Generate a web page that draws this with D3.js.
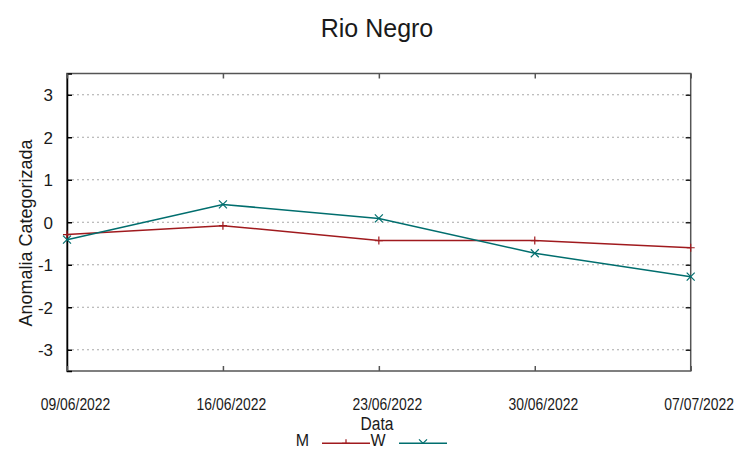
<!DOCTYPE html>
<html>
<head>
<meta charset="utf-8">
<script src="https://cdn.jsdelivr.net/npm/d3@7"></script>
<style>
  body { margin: 0; background: #fff; }
  text { font-family: "Liberation Sans", Arial, sans-serif; fill: #1a1a1a; }
</style>
</head>
<body>
<div id="chart"></div>
<script>
// chart values
var dates = ["09/06/2022", "16/06/2022", "23/06/2022", "30/06/2022", "07/07/2022"];
var seriesNames = ["M", "W"];
var valuesM = [-0.29, -0.08, -0.43, -0.43, -0.60];
var valuesW = [-0.41, 0.42, 0.09, -0.73, -1.28];
var yTicks = [-3, -2, -1, 0, 1, 2, 3];

var svgWidth = 753;
var svgHeight = 459;

// plot area edges
var margin = { top: 73.5, right: 62.3, bottom: 88, left: 67 };
var width = svgWidth - margin.left - margin.right;
var height = svgHeight - margin.top - margin.bottom;

var colors = { M: "#a01a1e", W: "#006e6e" };
var narrow = 0.82; // the reference uses a condensed face for these labels

var svg = d3.select("#chart")
  .append("svg")
  .attr("width", svgWidth)
  .attr("height", svgHeight);

var chartGroup = svg.append("g")
  .attr("transform", `translate(${margin.left}, ${margin.top})`);

var xScale = d3.scalePoint()
  .domain(dates)
  .range([0, width])
  .padding(0);

var yScale = d3.scaleLinear()
  .domain([-3.5, 3.5])
  .range([height, 0]);

// dotted grid
chartGroup.append("g")
  .selectAll("line")
  .data(yTicks)
  .enter()
  .append("line")
  .attr("x1", 0)
  .attr("x2", width)
  .attr("y1", d => yScale(d))
  .attr("y2", d => yScale(d))
  .attr("stroke", "#a8a8a8")
  .attr("stroke-width", 1)
  .attr("stroke-dasharray", "2,3");

// border
chartGroup.append("rect")
  .attr("x", 0)
  .attr("y", 0)
  .attr("width", width)
  .attr("height", height)
  .attr("fill", "none")
  .attr("stroke", "#555")
  .attr("stroke-width", 1.5);

// left axis
var leftAxis = d3.axisLeft(yScale)
  .tickValues(yTicks)
  .tickSize(-5)
  .tickPadding(14)
  .tickFormat(d => String(d));
var yAxis = chartGroup.append("g").call(leftAxis);
yAxis.select(".domain").attr("stroke", "#000").attr("stroke-width", 1.5);
yAxis.selectAll(".tick line").attr("stroke", "#000").attr("stroke-width", 1.5);
yAxis.selectAll(".tick text")
  .style("font-size", "17px")
  .attr("dy", "0.36em");

// right axis ticks
var rightAxis = d3.axisRight(yScale).tickValues(yTicks).tickSize(-5).tickFormat("");
var yAxisRight = chartGroup.append("g")
  .attr("transform", `translate(${width}, 0)`)
  .call(rightAxis);
yAxisRight.select(".domain").remove();
yAxisRight.selectAll(".tick line").attr("stroke", "#222").attr("stroke-width", 1.5);

// bottom axis
var bottomAxis = d3.axisBottom(xScale).tickSize(-5).tickPadding(27);
var xAxis = chartGroup.append("g")
  .attr("transform", `translate(0, ${height})`)
  .call(bottomAxis);
xAxis.select(".domain").remove();
xAxis.selectAll(".tick line").attr("stroke", "#555").attr("stroke-width", 1.5);
xAxis.selectAll(".tick text")
  .attr("x", 0)
  .attr("transform", `translate(8, 0) scale(${narrow}, 1)`)
  .style("font-size", "17px");

// top axis ticks
var topAxis = d3.axisTop(xScale).tickSize(-5).tickFormat("");
var xAxisTop = chartGroup.append("g").call(topAxis);
xAxisTop.select(".domain").remove();
xAxisTop.selectAll(".tick line").attr("stroke", "#555").attr("stroke-width", 1.5);

// lines
var series = [
  { name: "M", values: valuesM, symbol: "plus" },
  { name: "W", values: valuesW, symbol: "cross" }
];

var line = d3.line()
  .x((d, i) => xScale(dates[i]))
  .y(d => yScale(d));

function drawSymbol(g, type, x, y, color) {
  var s = 4;
  if (type === "plus") {
    g.append("path")
      .attr("d", `M${x - s},${y}H${x + s}M${x},${y - s}V${y + s}`)
      .attr("stroke", color).attr("stroke-width", 1.2).attr("fill", "none");
  } else {
    g.append("path")
      .attr("d", `M${x - s},${y - s}L${x + s},${y + s}M${x - s},${y + s}L${x + s},${y - s}`)
      .attr("stroke", color).attr("stroke-width", 1.2).attr("fill", "none");
  }
}

series.forEach(function(s) {
  chartGroup.append("path")
    .datum(s.values)
    .attr("d", line)
    .attr("fill", "none")
    .attr("stroke", colors[s.name])
    .attr("stroke-width", 1.5);
  var pts = chartGroup.append("g");
  s.values.forEach(function(v, i) {
    drawSymbol(pts, s.symbol, xScale(dates[i]), yScale(v), colors[s.name]);
  });
});

// title
svg.append("text")
  .attr("x", 377)
  .attr("y", 37)
  .attr("text-anchor", "middle")
  .style("font-size", "25px")
  .text("Rio Negro");

// y label
svg.append("text")
  .attr("transform", "rotate(-90)")
  .attr("x", -233)
  .attr("y", 32)
  .attr("text-anchor", "middle")
  .style("font-size", "18px")
  .text("Anomalia Categorizada");

// x label
svg.append("text")
  .attr("transform", `translate(377, 429.5) scale(${narrow}, 1)`)
  .attr("text-anchor", "middle")
  .style("font-size", "19px")
  .text("Data");

// legend; its symbols are cut off below the sample line, as in the reference
var legendY = 443.3;
svg.append("clipPath").attr("id", "legclip")
  .append("rect").attr("x", 0).attr("y", 0).attr("width", svgWidth).attr("height", legendY + 0.5);
var legend = svg.append("g");
var legendItems = [
  { name: seriesNames[0], textX: 302.5, x1: 322, x2: 370, symbol: "plus" },
  { name: seriesNames[1], textX: 378, x1: 399, x2: 447, symbol: "cross" }
];
legendItems.forEach(function(it) {
  legend.append("text")
    .attr("x", it.textX)
    .attr("y", 446.3)
    .attr("text-anchor", "middle")
    .style("font-size", "16px")
    .text(it.name);
  legend.append("line")
    .attr("x1", it.x1).attr("x2", it.x2)
    .attr("y1", legendY).attr("y2", legendY)
    .attr("stroke", colors[it.name])
    .attr("stroke-width", 1.5);
  var mg = legend.append("g").attr("clip-path", "url(#legclip)");
  drawSymbol(mg, it.symbol, (it.x1 + it.x2) / 2, legendY, colors[it.name]);
});
</script>
</body>
</html>
